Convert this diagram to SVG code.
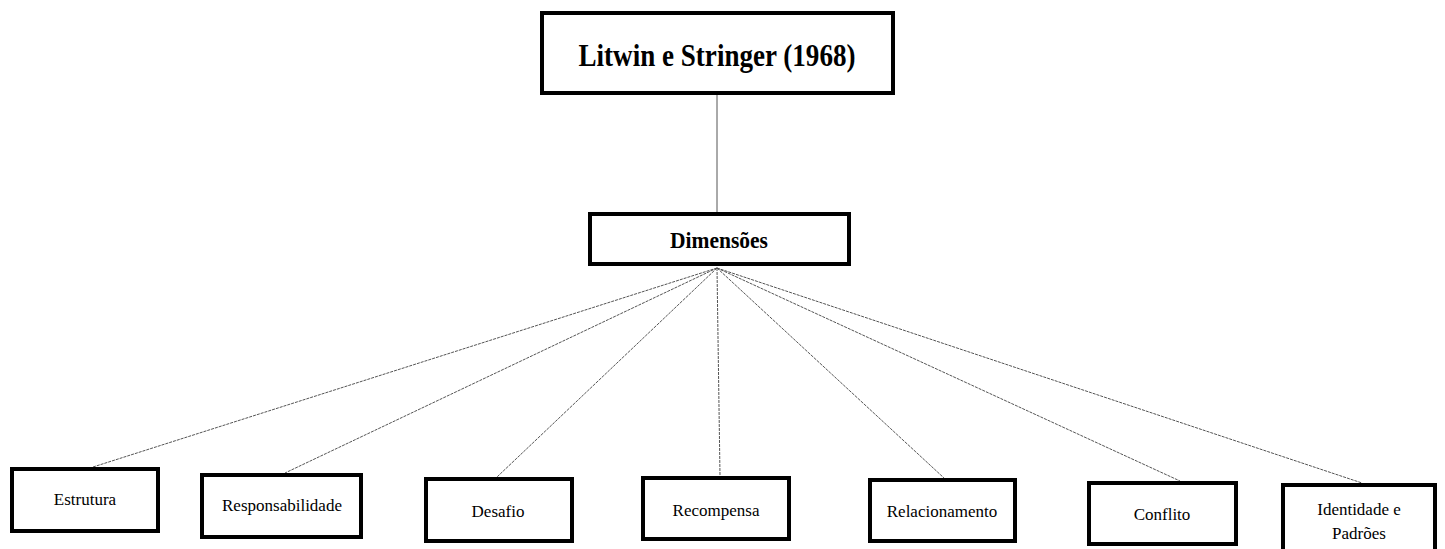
<svg xmlns="http://www.w3.org/2000/svg" width="1445" height="549" viewBox="0 0 1445 549">
<style>
.box{fill:#fff;stroke:#000;stroke-width:4}
.lbl{font-family:"Liberation Serif","Times New Roman",serif;font-size:17px;fill:#000;text-anchor:middle}
.ttl{font-family:"Liberation Serif","Times New Roman",serif;font-weight:bold;fill:#000;text-anchor:middle}
.ln{stroke:#555;stroke-width:1;fill:none}
.dl{stroke:#555;stroke-width:1;fill:none;stroke-dasharray:3 1}
</style>
<rect width="1445" height="549" fill="#fff"/>
<g id="connectors">
<line class="ln" x1="717" y1="94" x2="717" y2="212"/>
<line class="dl" x1="717" y1="268" x2="93" y2="467"/>
<line class="dl" x1="717" y1="268" x2="285" y2="473"/>
<line class="dl" x1="717" y1="268" x2="497" y2="477"/>
<line class="dl" x1="717" y1="268" x2="720" y2="476"/>
<line class="dl" x1="717" y1="268" x2="944" y2="478"/>
<line class="dl" x1="717" y1="268" x2="1180" y2="481"/>
<line class="dl" x1="717" y1="268" x2="1362" y2="483"/>
</g>
<g id="litwin">
<rect class="box" x="542" y="13" width="351" height="80"/>
<text class="ttl" x="717" y="66" font-size="31" textLength="277" lengthAdjust="spacingAndGlyphs">Litwin e Stringer (1968)</text>
</g>
<g id="dimensoes">
<rect class="box" x="590" y="214" width="259" height="50"/>
<text class="ttl" x="719" y="248" font-size="23" textLength="98" lengthAdjust="spacingAndGlyphs">Dimensões</text>
</g>
<g id="estrutura">
<rect class="box" x="12" y="469" width="146" height="62"/>
<text class="lbl" x="85" y="505">Estrutura</text>
</g>
<g id="responsabilidade">
<rect class="box" x="202" y="475" width="159" height="62"/>
<text class="lbl" x="282" y="511">Responsabilidade</text>
</g>
<g id="desafio">
<rect class="box" x="426" y="479" width="146" height="62"/>
<text class="lbl" x="498" y="517">Desafio</text>
</g>
<g id="recompensa">
<rect class="box" x="643" y="478" width="146" height="61"/>
<text class="lbl" x="716" y="516">Recompensa</text>
</g>
<g id="relacionamento">
<rect class="box" x="870" y="480" width="145" height="61"/>
<text class="lbl" x="942" y="517">Relacionamento</text>
</g>
<g id="conflito">
<rect class="box" x="1089" y="483" width="147" height="61"/>
<text class="lbl" x="1162" y="520">Conflito</text>
</g>
<g id="identidade">
<rect class="box" x="1283" y="485" width="152" height="66"/>
<text class="lbl" x="1359" y="515">Identidade e</text>
<text class="lbl" x="1359" y="539">Padrões</text>
</g>
</svg>
